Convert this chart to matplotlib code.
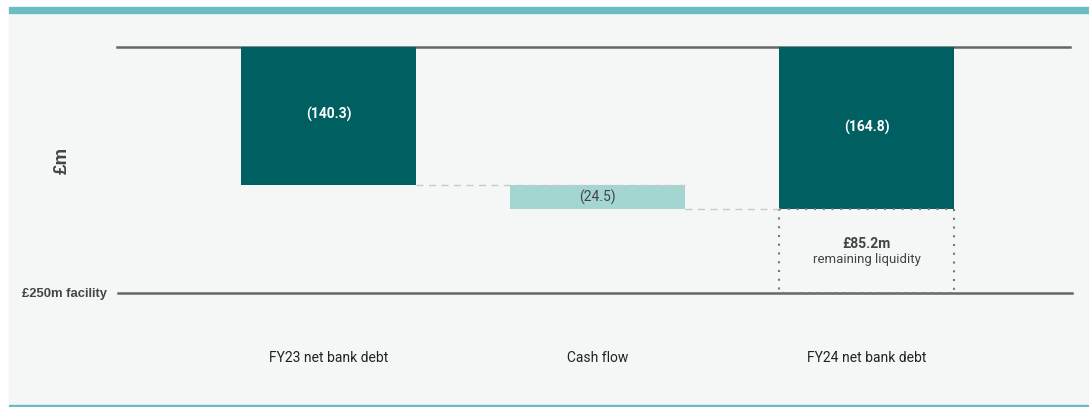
import matplotlib
matplotlib.use("Agg")
import matplotlib.pyplot as plt
from matplotlib.patches import Rectangle

categories = ["FY23 net bank debt", "Cash flow", "FY24 net bank debt"]
fy23_debt = 140.3
cash_flow = 24.5
fy24_debt = 164.8
facility = 250.0
remaining = 85.2
bar_labels = ["(140.3)", "(24.5)", "(164.8)"]

DARK = "#005f60"
LIGHT = "#a3d5d1"
LINE = "#666666"

W, H = 1089, 407
fig = plt.figure(figsize=(W / 100, H / 100), dpi=100)
fig.patch.set_facecolor("white")

def fx(px):
    return px / W

def fy(py):
    return 1 - py / H

fig.patches.append(Rectangle((fx(9), fy(404)), fx(1089) - fx(9), fy(13) - fy(404),
                             transform=fig.transFigure, color="#f5f7f7", zorder=0))
fig.patches.append(Rectangle((fx(9), fy(13)), 1 - fx(9), fy(7) - fy(13),
                             transform=fig.transFigure, color="#6bbcc4", zorder=1))
fig.patches.append(Rectangle((fx(9), fy(406)), 1 - fx(9), fy(404.5) - fy(406),
                             transform=fig.transFigure, color="#6bbcc4", zorder=1))

ax = fig.add_axes([0, 0, 1, 1])
ax.set_zorder(5)
ax.set_facecolor("none")
ax.axis("off")

xpx0, xstep = 328.5, 269.0
ypx0, ystep = 47.0, (293.0 - 47.0) / facility
ax.set_xlim(-xpx0 / xstep, (W - xpx0) / xstep)
ax.set_ylim((H - ypx0) / ystep, -ypx0 / ystep)

xs = [0, 1, 2]
bw = 175 / xstep

ax.bar(xs[0], fy23_debt, bottom=0, width=bw, color=DARK, zorder=3)
ax.bar(xs[1], cash_flow, bottom=fy23_debt, width=bw, color=LIGHT, zorder=3)
ax.bar(xs[2], fy24_debt, bottom=0, width=bw, color=DARK, zorder=3)

ax.add_patch(Rectangle((xs[2] - bw / 2, fy24_debt), bw, remaining, fill=False,
                       edgecolor="#777777", linestyle=(0, (1, 3.2)), linewidth=1.5, zorder=4))

ax.plot([xs[0] + bw / 2, xs[1] + bw / 2], [fy23_debt, fy23_debt], color="#c8c8c8",
        linestyle=(0, (5, 4)), linewidth=1, zorder=4)
ax.plot([xs[1] + bw / 2, xs[2] - bw / 2], [fy24_debt, fy24_debt], color="#c8c8c8",
        linestyle=(0, (5, 4)), linewidth=1, zorder=4)

ax.axhline(0, xmin=117 / W, xmax=1070 / W, color=LINE, linewidth=1.8, zorder=2)
ax.axhline(facility, xmin=118 / W, xmax=1072 / W, color=LINE, linewidth=1.8, zorder=2)

ax.text(xs[0], fy23_debt / 2 - 2, bar_labels[0], ha="center", va="center", color="white",
        fontsize=10, fontweight="bold", family="Roboto", zorder=5)
ax.text(xs[1], fy23_debt + cash_flow / 2, bar_labels[1], ha="center", va="center", color="#444444",
        fontsize=10, family="Roboto", zorder=5)
ax.text(xs[2], fy24_debt / 2 - 1, bar_labels[2], ha="center", va="center", color="white",
        fontsize=10, fontweight="bold", family="Roboto", zorder=5)

mid_box = fy24_debt + remaining / 2
ax.text(xs[2], mid_box - 7, "£%.1fm" % remaining, ha="center", va="center", color="#444444",
        fontsize=10, fontweight="bold", family="Roboto", zorder=5)
ax.text(xs[2], mid_box + 9, "remaining liquidity", ha="center", va="center", color="#444444",
        fontsize=9.5, family="Roboto", zorder=5)

for x, c in zip(xs, categories):
    ax.text(x, 316, c, ha="center", va="center", color="#222222", fontsize=10, family="Roboto")

fig.text(fx(62), fy(160), "£m", rotation=90, ha="center", va="center", color="#444444",
         fontsize=13.5, fontweight="bold", family="Liberation Sans", zorder=6)
fig.text(fx(22), fy(294), "£%dm facility" % int(facility), ha="left", va="center", color="#444444",
         fontsize=9.4, fontweight="bold", family="Liberation Sans", zorder=6)

fig.savefig("out.png", dpi=100)
